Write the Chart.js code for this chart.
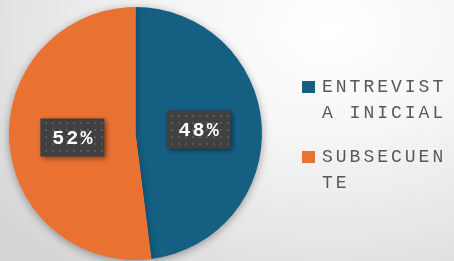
<!DOCTYPE html>
<html>
<head>
<meta charset="utf-8">
<script src="https://cdn.jsdelivr.net/npm/chart.js@4/dist/chart.umd.min.js"></script>
<style>
    html, body { margin: 0; padding: 0; }
    body {
        width: 454px;
        height: 261px;
        overflow: hidden;
        position: relative;
        background: radial-gradient(ellipse 420px 300px at 330px 30px, #ffffff 0%, #f6f6f6 35%, #e6e6e6 70%, #d6d6d6 100%);
    }
    #chart { position: absolute; left: 0; top: 0; }
    #legend {
        position: absolute;
        left: 302px;
        top: 74px;
        font-family: "Liberation Mono", "Courier New", monospace;
        font-size: 18px;
        letter-spacing: 3px;
        color: #595959;
    }
    .item { position: relative; padding-left: 20px; width: 130px; line-height: 26px; word-break: break-all; margin-bottom: 18px; }
    .box { position: absolute; left: 0; top: 7px; width: 13px; height: 12px; }
</style>
</head>
<body>
<canvas id="chart" width="454" height="261"></canvas>
<div id="legend"></div>
<script>
let labels = ['ENTREVISTA INICIAL', 'SUBSECUENTE'];
let data = [48, 52];
let pctLabels = ['48%', '52%'];
let colors = ['#156082', '#E97132'];

// dotted dark pattern used behind the value labels
let patCanvas = document.createElement('canvas');
patCanvas.width = 7;
patCanvas.height = 7;
let pctx = patCanvas.getContext('2d');
pctx.fillStyle = '#404040';
pctx.fillRect(0, 0, 7, 7);
pctx.fillStyle = '#5a5a5a';
pctx.fillRect(3, 3, 2, 2);

let shadowPlugin = {
    id: 'pieShadow',
    beforeDatasetsDraw(chart) {
        let c = chart.ctx;
        c.save();
        c.shadowColor = 'rgba(0,0,0,0.35)';
        c.shadowBlur = 9;
        c.shadowOffsetY = 2;
    },
    afterDatasetsDraw(chart) {
        chart.ctx.restore();
    },
};

let valueLabels = {
    id: 'valueLabels',
    afterDraw(chart) {
        let c = chart.ctx;
        let meta = chart.getDatasetMeta(0);
        let pattern = c.createPattern(patCanvas, 'repeat');
        meta.data.forEach((arc, i) => {
            let p = arc.getCenterPoint();
            let w = 64, h = 38;
            c.save();
            c.shadowColor = 'rgba(0,0,0,0.45)';
            c.shadowBlur = 5;
            c.shadowOffsetX = 2;
            c.shadowOffsetY = 2;
            c.fillStyle = pattern;
            c.fillRect(p.x - w / 2, p.y - h / 2, w, h);
            c.restore();
            c.save();
            c.font = 'bold 20px "Liberation Mono", "Courier New", monospace';
            c.letterSpacing = '2px';
            c.fillStyle = '#ffffff';
            c.textAlign = 'center';
            c.textBaseline = 'middle';
            c.fillText(pctLabels[i], p.x + 1, p.y + 1);
            c.restore();
        });
    },
};

let chart = new Chart(document.getElementById('chart'), {
    type: 'pie',
    data: {
        labels: labels,
        datasets: [
            {
                data: data,
                backgroundColor: colors,
                borderWidth: 0,
            },
        ],
    },
    options: {
        responsive: false,
        animation: false,
        layout: {
            padding: { left: 8, right: 191, top: 7, bottom: 1 },
        },
        plugins: {
            legend: { display: false },
            tooltip: { enabled: false },
        },
    },
    plugins: [shadowPlugin, valueLabels],
});

let legendEl = document.getElementById('legend');
labels.forEach((lab, i) => {
    let item = document.createElement('div');
    item.className = 'item';
    item.innerHTML = '<span class="box" style="background:' + colors[i] + '"></span>' + lab;
    legendEl.appendChild(item);
});
</script>
</body>
</html>
